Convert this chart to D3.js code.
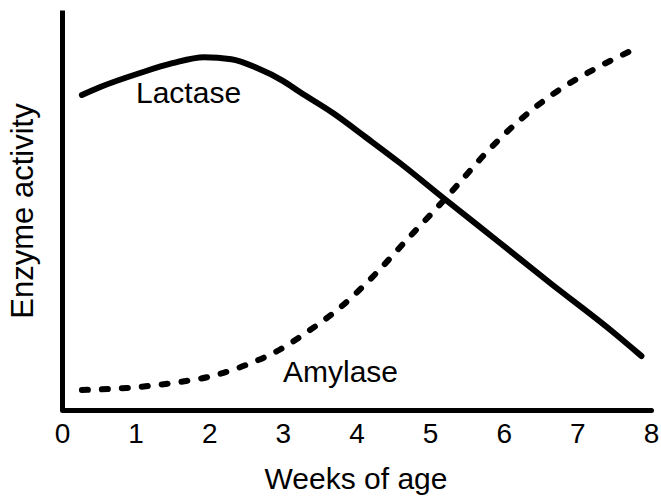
<!DOCTYPE html>
<html>
<head>
<meta charset="utf-8">
<script src="https://cdn.jsdelivr.net/npm/d3@7"></script>
<style>
  body { margin: 0; background: #fff; }
  svg { display: block; font-family: "Liberation Sans", Arial, Helvetica, sans-serif; }
  .curve { fill: none; stroke: #000; stroke-width: 6; stroke-linecap: round; }
</style>
</head>
<body>
<svg width="661" height="499"></svg>
<script>
// weeks of age (x) and activity (arbitrary units 0-100)
const lactaseWeeks = [0.27, 0.52, 1.06, 1.5, 1.93, 2.3, 2.65, 3.0, 3.23, 3.68, 4.14, 4.59, 5.18, 5.95, 6.63, 7.45, 7.87];
const lactaseValues = [78.75, 80.75, 84.25, 86.7, 88.2, 87.7, 85.5, 82.3, 79.5, 74.25, 68, 61.75, 53, 41.75, 31.75, 20, 13.5];
const amylaseWeeks = [0.27, 0.88, 1.5, 2.04, 2.5, 2.95, 3.33, 3.77, 4.27, 4.68, 5.09, 5.36, 5.77, 6.22, 6.67, 7.21, 7.75];
const amylaseValues = [5, 5.5, 6.75, 8.5, 11.25, 15, 19.5, 25.5, 34.25, 42.5, 50.5, 56, 64.5, 72.5, 79, 85, 90];
const xTicks = [0, 1, 2, 3, 4, 5, 6, 7, 8];

const svg = d3.select("svg");
const x = d3.scaleLinear().domain([0, 8]).range([62, 651]);
const y = d3.scaleLinear().domain([0, 100]).range([410, 10]);

const line = d3.line()
    .x(d => x(d[0]))
    .y(d => y(d[1]))
    .curve(d3.curveMonotoneX);

const lactase = lactaseWeeks.map((w, i) => [w, lactaseValues[i]]);
const amylase = amylaseWeeks.map((w, i) => [w, amylaseValues[i]]);

// axes
const xAxis = svg.append("g")
    .attr("transform", `translate(0,${y(0)})`)
    .call(d3.axisBottom(x).tickValues(xTicks).tickSize(0).tickPadding(13).tickFormat(d3.format("d")));
xAxis.select(".domain").attr("stroke-width", 5).attr("stroke-linecap", "round");
xAxis.selectAll("text").attr("font-size", 28).attr("font-family", null).attr("fill", "#000");

const yAxis = svg.append("g")
    .attr("transform", `translate(${x(0)},0)`)
    .call(d3.axisLeft(y).tickValues([]).tickSizeOuter(0));
yAxis.select(".domain").attr("stroke-width", 5);

// curves
svg.append("path").datum(lactase).attr("class", "curve").attr("d", line);
svg.append("path").datum(amylase).attr("class", "curve")
    .attr("stroke-dasharray", "6,14")
    .attr("d", line);

// labels
svg.append("text").attr("x", 136).attr("y", 103).attr("font-size", 30).text("Lactase");
svg.append("text").attr("x", 283).attr("y", 382).attr("font-size", 30).text("Amylase");

svg.append("text")
    .attr("x", 356).attr("y", 489)
    .attr("text-anchor", "middle")
    .attr("font-size", 30)
    .text("Weeks of age");

svg.append("text")
    .attr("transform", "translate(33,211) rotate(-90)")
    .attr("text-anchor", "middle")
    .attr("font-size", 31)
    .text("Enzyme activity");
</script>
</body>
</html>
